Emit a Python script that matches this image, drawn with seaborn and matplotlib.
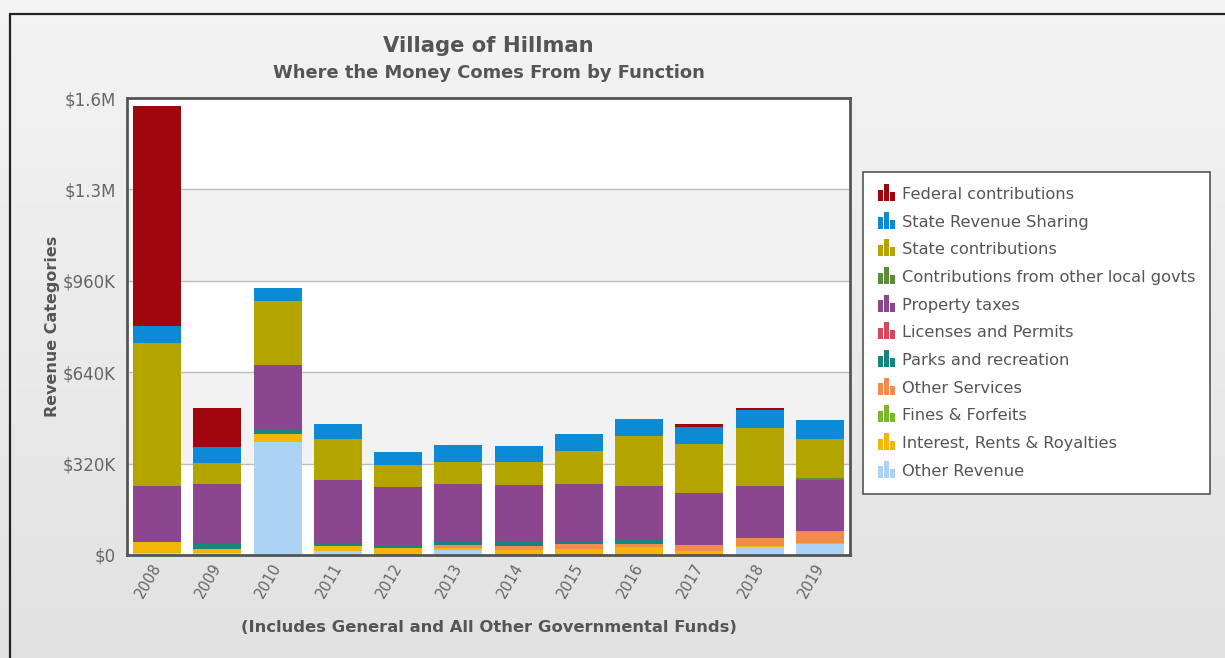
import numpy as np
import pandas as pd
import matplotlib
matplotlib.use("Agg")
import matplotlib.pyplot as plt
import seaborn as sns
import matplotlib.transforms as mtransforms
from matplotlib.patches import Rectangle
from matplotlib.legend_handler import HandlerBase
from matplotlib.lines import Line2D

# ---------------- data (thousands of dollars) ----------------
years = ["2008", "2009", "2010", "2011", "2012", "2013", "2014", "2015", "2016", "2017", "2018", "2019"]

federal = [770, 134, 0, 0, 0, 0, 0, 0, 0, 11, 7, 0]
state_rev_sharing = [60, 57, 46, 50, 46, 57, 57, 60, 60, 60, 64, 64]
state_contrib = [503, 74, 223, 145, 78, 78, 78, 117, 177, 170, 205, 138]
local_contrib = [0, 0, 0, 0, 0, 0, 0, 0, 0, 0, 0, 8]
property_taxes = [195, 205, 223, 219, 202, 202, 198, 202, 188, 181, 181, 177]
licenses = [0, 0, 0, 0, 0, 0, 0, 0, 0, 0, 0, 0]
parks = [0, 21, 18, 11, 11, 11, 18, 7, 14, 0, 0, 0]
other_services = [0, 0, 0, 0, 0, 11, 12, 18, 10, 21, 28, 42]
fines = [0, 0, 0, 0, 0, 0, 0, 0, 0, 0, 0, 0]
interest = [39, 14, 28, 18, 25, 7, 18, 21, 28, 15, 4, 3]
other_revenue = [6, 8, 396, 14, 0, 18, 0, 0, 0, 0, 27, 39]

# legend order (top of legend = top of stack)
series_names = ["Federal contributions", "State Revenue Sharing", "State contributions",
                "Contributions from other local govts", "Property taxes", "Licenses and Permits",
                "Parks and recreation", "Other Services", "Fines & Forfeits",
                "Interest, Rents & Royalties", "Other Revenue"]
series_values = [federal, state_rev_sharing, state_contrib, local_contrib, property_taxes,
                 licenses, parks, other_services, fines, interest, other_revenue]
series_colors = ["#a0060e", "#0b8bd6", "#b3a400", "#5c8c3a", "#8c4690", "#d6485a",
                 "#14877f", "#f28c4c", "#7ab82a", "#f2b606", "#acd3f4"]

ytick_vals = [0, 320000, 640000, 960000, 1280000, 1600000]
ytick_labels = ["$0", "$320K", "$640K", "$960K", "$1.3M", "$1.6M"]

# ---------------- figure ----------------
sns.set_theme(style="white")
plt.rcParams["font.family"] = ["DejaVu Sans"]

W, H, DPI = 1225, 658, 100
fig = plt.figure(figsize=(W / DPI, H / DPI), dpi=DPI)

# background gradient
bg = fig.add_axes([0, 0, 1, 1], zorder=-10)
grad = np.linspace(0, 1, 256).reshape(-1, 1)
c_top = np.array([0.955, 0.955, 0.955])
c_bot = np.array([0.885, 0.885, 0.885])
img = c_top[None, None, :] * (1 - grad[..., None]) + c_bot[None, None, :] * grad[..., None]
bg.imshow(img, aspect="auto", extent=[0, 1, 0, 1], origin="upper")
bg.set_xlim(0, 1); bg.set_ylim(0, 1)
bg.axis("off")
# outer frame (left & top visible)
bg.add_line(Line2D([10 / W, 10 / W], [0, 1 - 14 / H], color="#222222", lw=1.6))
bg.add_line(Line2D([10 / W, 1], [1 - 14 / H, 1 - 14 / H], color="#222222", lw=1.6))

ax = fig.add_axes([127 / W, 1 - 555 / H, (850 - 127) / W, (555 - 98) / H])
ax.set_facecolor("white")

# alternating bands
for i in range(len(ytick_vals) - 1):
    if i % 2 == 1:
        ax.axhspan(ytick_vals[i], ytick_vals[i + 1], color="#f2f2f2", zorder=0, lw=0)
for v in ytick_vals[1:-1]:
    ax.axhline(v, color="#bdbdbd", lw=1.0, zorder=0.5)

# stacked bars, bottom to top
df_cols = {name: np.array(vals, dtype=float) * 1000 for name, vals in zip(series_names, series_values)}
df = pd.DataFrame(df_cols)
df["year"] = years
bottom = np.zeros(len(years))
for name, color in zip(series_names[::-1], series_colors[::-1]):
    vals = df[name].values
    sns.barplot(x=df["year"], y=vals, bottom=bottom, color=color, width=0.8,
                errorbar=None, ax=ax, zorder=2, linewidth=0, saturation=1)
    bottom = bottom + vals

ax.set_ylim(0, 1600000)
ax.set_xlim(-0.5, len(years) - 0.5)
ax.set_yticks(ytick_vals)
ax.set_yticklabels(ytick_labels, color="#666666", fontsize=12)
ax.set_xticks(range(len(years)))
ax.set_xticklabels(years, rotation=60, ha="right", rotation_mode="anchor",
                   color="#666666", fontsize=10.5)
ax.tick_params(axis="x", length=0, pad=4)
ax.tick_params(axis="y", length=0, pad=8)
ax.set_xlabel("(Includes General and All Other Governmental Funds)", fontsize=11.8,
              fontweight="bold", color="#555555", labelpad=14)
ax.set_ylabel("Revenue Categories", fontsize=11.5, fontweight="bold", color="#555555", labelpad=2)
for sp in ax.spines.values():
    sp.set_visible(True)
    sp.set_color("#555555")
    sp.set_linewidth(2.0)

# shift x tick labels slightly left
offset = mtransforms.ScaledTranslation(-6 / DPI, 0, fig.dpi_scale_trans)
for lbl in ax.get_xticklabels():
    lbl.set_transform(lbl.get_transform() + offset)

# titles
fig.text(488.5 / W, 1 - 46 / H, "Village of Hillman", ha="center", va="center",
         fontsize=15.2, fontweight="bold", color="#555555")
fig.text(488.5 / W, 1 - 73 / H, "Where the Money Comes From by Function", ha="center",
         va="center", fontsize=12.9, fontweight="bold", color="#555555")


# legend with small bar-chart icons
class BarIconHandler(HandlerBase):
    def create_artists(self, legend, orig_handle, xdescent, ydescent, width, height, fontsize, trans):
        c = orig_handle.get_facecolor()
        arts = []
        w = width / 3.0 - 0.6
        x0 = -xdescent
        hs = [0.8, 1.25, 0.6]
        for k, hh in enumerate(hs):
            r = Rectangle((x0 + k * (w + 0.8), -ydescent - 1), w, height * hh + 1,
                          facecolor=c, edgecolor="none", transform=trans)
            arts.append(r)
        return arts


handles = [Rectangle((0, 0), 1, 1, facecolor=c) for c in series_colors]
leg = fig.legend(handles, series_names, loc="upper left",
                 bbox_to_anchor=(863 / W, 1 - 172 / H),
                 handler_map={Rectangle: BarIconHandler()},
                 fontsize=11.7, frameon=True, fancybox=False, framealpha=1,
                 handlelength=1.05, handleheight=0.8,
                 handletextpad=0.4, labelspacing=0.78, borderpad=0.92, borderaxespad=0)
leg.get_frame().set_edgecolor("#555555")
leg.get_frame().set_linewidth(1.2)
leg.get_frame().set_facecolor("white")
for t in leg.get_texts():
    t.set_color("#555555")

fig.savefig("out.png", dpi=DPI)
